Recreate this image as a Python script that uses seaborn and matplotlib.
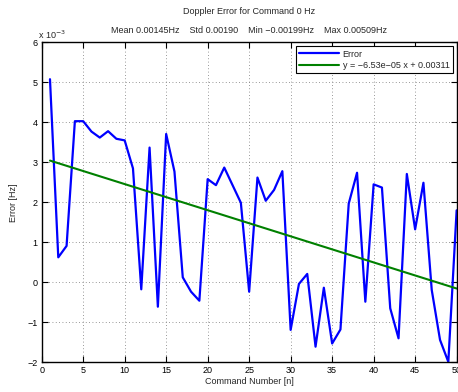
import numpy as np
import pandas as pd
import matplotlib
matplotlib.use("Agg")
import matplotlib.pyplot as plt
from matplotlib.ticker import FuncFormatter, MultipleLocator
import seaborn as sns

# Doppler error per command (Hz)
command = list(range(1, 51))
error_hz = [
    0.00508, 0.000625, 0.00091, 0.00403, 0.00403, 0.00377, 0.00362, 0.00378, 0.00359, 0.00355,
    0.00285, -0.000175, 0.00337, -0.00061, 0.00371, 0.00277, 0.000125, -0.000235, -0.00046, 0.00258,
    0.00243, 0.00287, 0.00243, 0.00199, -0.000235, 0.00262, 0.00204, 0.00231, 0.00278, -0.00119,
    -0.00004, 0.00021, -0.00161, -0.000135, -0.00153, -0.00118, 0.00197, 0.00274, -0.000485, 0.00245,
    0.00237, -0.00065, -0.0014, 0.00271, 0.001325, 0.00249, -0.00019, -0.00144, -0.00199, 0.0018,
]
# Linear fit coefficients
fit_slope = -6.53e-05
fit_intercept = 0.00311

stats_mean = 0.00145
stats_std = 0.00190
stats_min = -0.00199
stats_max = 0.00509

sns.set_style("ticks")
plt.rcParams["font.family"] = ["Liberation Sans", "DejaVu Sans"]
plt.rcParams["font.size"] = 6.5

df = pd.DataFrame({"n": command, "err": error_hz})
df["fit"] = fit_intercept + fit_slope * df["n"]

fig = plt.figure(figsize=(4.58, 3.92), dpi=100)
ax = fig.add_axes([0.091, 0.0758, 0.906, 0.816])

sns.lineplot(data=df, x="n", y="err", ax=ax, color=(0, 0, 1), linewidth=1.6,
             label="Error")
sns.lineplot(data=df, x="n", y="fit", ax=ax, color=(0, 0.5, 0), linewidth=1.5,
             label=f"y = \u2212{abs(fit_slope):.2e} x + {fit_intercept:.5f}".replace("e-", "e\u2212"))

ax.set_xlim(0, 50)
ax.set_ylim(-0.002, 0.006)
ax.xaxis.set_major_locator(MultipleLocator(5))
ax.yaxis.set_major_locator(MultipleLocator(0.001))
ax.yaxis.set_major_formatter(FuncFormatter(lambda v, p: f"{v * 1e3:.0f}".replace("-", "\u2212")))

ax.grid(True, linestyle=(0, (1, 3)), color="#777777", linewidth=0.6)
ax.tick_params(direction="in", length=4, width=0.8, top=True, right=True,
               labelsize=6.5, pad=3, colors="black")
for s in ax.spines.values():
    s.set_color("black")
    s.set_linewidth(1.0)

ax.set_xlabel("Command Number [n]", fontsize=6.5, labelpad=1)
ax.set_ylabel("Error [Hz]", fontsize=6.5, labelpad=7)

ax.text(-0.008, 1.004, "x 10$^{-3}$", transform=ax.transAxes, fontsize=6.5,
        ha="left", va="bottom")

fig.text(0.544, 0.97, "Doppler Error for Command 0 Hz", ha="center", va="center",
         fontsize=6.5)
stats = (f"Mean {stats_mean:.5f}Hz    Std {stats_std:.5f}    "
         f"Min \u2212{abs(stats_min):.5f}Hz    Max {stats_max:.5f}Hz")
fig.text(0.544, 0.923, stats, ha="center", va="center", fontsize=6.5)

leg = ax.legend(loc="upper right", fontsize=6.5, frameon=True, fancybox=False,
                framealpha=1, edgecolor="black", borderpad=0.35, labelspacing=0.25,
                handlelength=4.4, handletextpad=0.4, borderaxespad=0.45)
leg.get_frame().set_linewidth(0.8)

fig.savefig("out.png", dpi=100)
